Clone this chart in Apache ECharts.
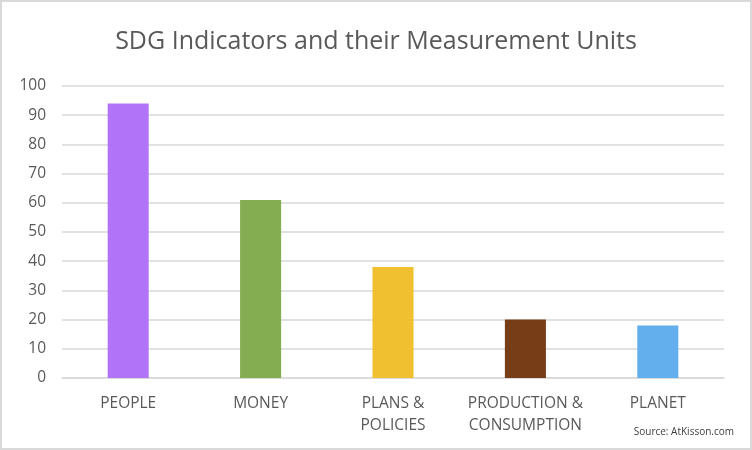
<!DOCTYPE html>
<html><head><meta charset="utf-8">
<script src="https://cdn.jsdelivr.net/npm/echarts@6/dist/echarts.min.js"></script>
<style>html,body{margin:0;padding:0;background:#fff}#c{width:752px;height:450px;box-sizing:border-box;border:2px solid #d9d9d9}</style>
</head><body><div id="c"></div>
<script>
var categories = ['PEOPLE', 'MONEY', 'PLANS &\nPOLICIES', 'PRODUCTION &\nCONSUMPTION', 'PLANET'];
var values = [94, 61, 38, 20, 18];
var colors = ['#b174f8', '#84ac50', '#f0c030', '#773d17', '#63aeec'];
var yTicks = { min: 0, max: 100, interval: 10 };

var chart = echarts.init(document.getElementById('c'), null, { renderer: 'canvas' });
chart.setOption({
  animation: false,
  title: {
    text: 'SDG Indicators and their Measurement Units',
    left: 'center', top: 22,
    textStyle: { fontFamily: 'Open Sans', fontWeight: 'normal', fontSize: 25, color: '#595959' }
  },
  graphic: [{
    type: 'text', right: 16, bottom: 11,
    style: { text: 'Source: AtKisson.com', fontFamily: 'Open Sans', fontSize: 10, fill: '#404040' }
  }],
  grid: { left: 60, right: 26, top: 84, bottom: 70 },
  xAxis: {
    type: 'category', data: categories,
    axisLine: { lineStyle: { color: '#d9d9d9', width: 1.5 } },
    axisTick: { show: false },
    axisLabel: { fontFamily: 'Open Sans', fontSize: 15.5, color: '#595959', lineHeight: 22, margin: 15, interval: 0 }
  },
  yAxis: {
    type: 'value', min: yTicks.min, max: yTicks.max, interval: yTicks.interval,
    axisLine: { show: false }, axisTick: { show: false },
    splitLine: { lineStyle: { color: '#d9d9d9', width: 1.5 } },
    axisLabel: { fontFamily: 'Open Sans', fontSize: 15.5, color: '#595959', margin: 16 }
  },
  series: [{
    type: 'bar', barWidth: '31%',
    data: values.map(function (v, i) { return { value: v, itemStyle: { color: colors[i] } }; })
  }]
});
</script></body></html>
